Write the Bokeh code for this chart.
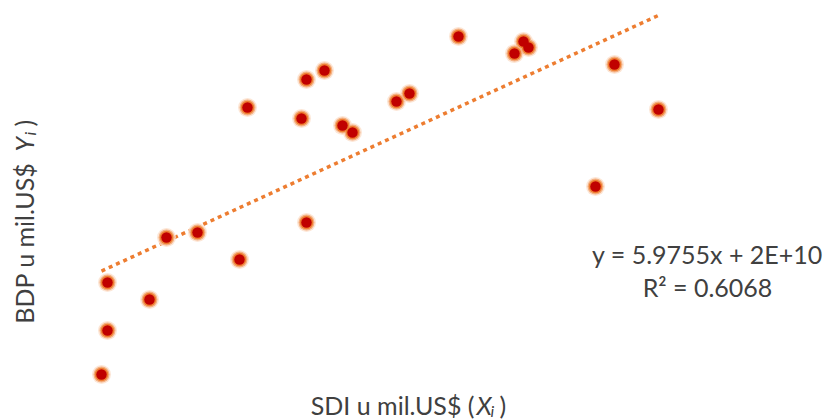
import math

from bokeh.embed import file_html
from bokeh.models import ColumnDataSource, Label, Range1d
from bokeh.plotting import figure
from bokeh.resources import INLINE

# FDI (SDI) and GDP (BDP), in US$
sdi = [2.1e8, 2.7e8, 2.7e8, 6.9e8, 8.6e8, 1.17e9, 1.59e9, 1.67e9, 2.21e9, 2.26e9,
       2.26e9, 2.44e9, 2.62e9, 2.72e9, 3.16e9, 3.29e9, 3.78e9, 4.34e9, 4.43e9,
       4.48e9, 5.15e9, 5.34e9, 5.78e9]
bdp = [7.79e9, 1.351e10, 1.976e10, 1.755e10, 2.562e10, 2.627e10, 2.276e10,
       4.255e10, 4.112e10, 4.619e10, 2.758e10, 4.737e10, 4.021e10, 3.929e10,
       4.333e10, 4.437e10, 5.179e10, 4.958e10, 5.114e10, 5.036e10, 3.226e10,
       4.815e10, 4.229e10]

# linear trendline as reported
slope = 5.9755
intercept = 2e10
r_squared = 0.6068

eq_text = f"y = {slope}x + 2E+10"
r2_text = f"R\u00b2 = {r_squared}"

W, H = 830, 420
X0, X1 = -0.8e9, 7.5e9
Y0, Y1 = 1.797e9, 5.648e10

FONT = "Lato"
TXT = "#404040"
FS = "25px"
FS_SUB = "16px"


def sx(px):
    return X0 + (X1 - X0) * px / W


def sy(py):
    return Y1 - (Y1 - Y0) * py / H


p = figure(width=W, height=H, output_backend="svg", toolbar_location=None,
           x_range=Range1d(X0, X1), y_range=Range1d(Y0, Y1),
           min_border=0, background_fill_color="white", border_fill_color="white")
p.axis.visible = False
p.grid.visible = False
p.outline_line_color = None

src = ColumnDataSource(dict(x=sdi, y=bdp))

# trendline across the data span
tx = [min(sdi), max(sdi)]
ty = [slope * v + intercept for v in tx]
p.line(tx, ty, line_color="#ED7D31", line_width=3.5, line_dash="4 4")

# soft-edged markers
p.scatter("x", "y", source=src, size=19, fill_color="#FBE0CC", fill_alpha=0.8, line_color=None)
p.scatter("x", "y", source=src, size=16, fill_color="#F4B183", line_color=None)
p.scatter("x", "y", source=src, size=13.5, fill_color="#EE7D31", line_color=None)
p.scatter("x", "y", source=src, size=10.5, fill_color="#C00000", line_color=None)

common = dict(text_font=FONT, text_color=TXT, text_baseline="alphabetic")

# trendline equation
p.add_layout(Label(x=sx(707), y=sy(253), text=eq_text, text_align="center",
                   text_font_size=FS, **common))
p.add_layout(Label(x=sx(707), y=sy(286), text=r2_text, text_align="center",
                   text_font_size=FS, **common))

# x axis title: SDI u mil.US$ (X_i )
p.add_layout(Label(x=sx(474), y=sy(404), text="SDI u mil.US$ (", text_align="right",
                   text_font_size=FS, **common))
p.add_layout(Label(x=sx(476), y=sy(404), text="X", text_align="left", text_font_style="italic",
                   text_font_size=FS, **common))
p.add_layout(Label(x=sx(490), y=sy(410), text="i", text_align="left", text_font_style="italic",
                   text_font_size=FS_SUB, **common))
p.add_layout(Label(x=sx(499), y=sy(404), text=")", text_align="left",
                   text_font_size=FS, **common))

# y axis title: BDP u mil.US$ Y_i )
ang = math.pi / 2
p.add_layout(Label(x=sx(23), y=sy(162), text="BDP u mil.US$", text_align="right", angle=ang,
                   text_font_size=FS, **common))
p.add_layout(Label(x=sx(23), y=sy(151), text="Y", text_align="left", angle=ang,
                   text_font_style="italic", text_font_size=FS, **common))
p.add_layout(Label(x=sx(29), y=sy(135), text="i", text_align="left", angle=ang,
                   text_font_style="italic", text_font_size=FS_SUB, **common))
p.add_layout(Label(x=sx(23), y=sy(126), text=")", text_align="left", angle=ang,
                   text_font_size=FS, **common))

open("out.html", "w").write(file_html(p, INLINE))
